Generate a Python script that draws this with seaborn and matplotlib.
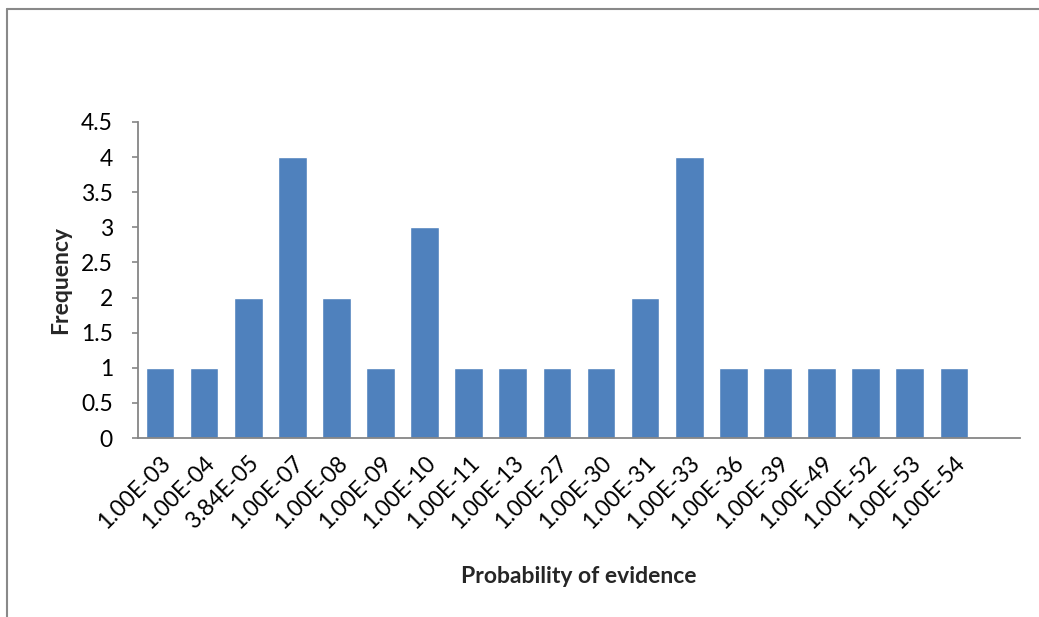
import matplotlib
matplotlib.use("Agg")
import matplotlib.pyplot as plt
import seaborn as sns
import pandas as pd

# values
prob_labels = ["1.00E-03", "1.00E-04", "3.84E-05", "1.00E-07", "1.00E-08", "1.00E-09",
               "1.00E-10", "1.00E-11", "1.00E-13", "1.00E-27", "1.00E-30", "1.00E-31",
               "1.00E-33", "1.00E-36", "1.00E-39", "1.00E-49", "1.00E-52", "1.00E-53",
               "1.00E-54"]
frequency = [1, 1, 2, 4, 2, 1, 3, 1, 1, 1, 1, 2, 4, 1, 1, 1, 1, 1, 1]

df = pd.DataFrame({"label": prob_labels, "freq": frequency})

sns.set_theme(style="white")
plt.rcParams["font.family"] = ["Lato", "DejaVu Sans"]

fig = plt.figure(figsize=(10.39, 6.17), dpi=100)
ax = fig.add_axes([0.1328, 0.2901, 0.8489, 0.5122])

sns.barplot(data=df, x="label", y="freq", color="#4F81BD", saturation=1,
            width=0.65, ax=ax)

# Excel leaves one empty slot at the right end
ax.set_xlim(-0.5, len(prob_labels) - 0.5 + 1)
ax.set_ylim(0, 4.5)
ax.set_yticks([0, 0.5, 1, 1.5, 2, 2.5, 3, 3.5, 4, 4.5])
ax.set_yticklabels(["0", "0.5", "1", "1.5", "2", "2.5", "3", "3.5", "4", "4.5"])

for s in ["top", "right"]:
    ax.spines[s].set_visible(False)
for s in ["left", "bottom"]:
    ax.spines[s].set_color("#868686")
    ax.spines[s].set_linewidth(1.3)

ax.tick_params(axis="y", left=True, length=4, width=1.2, color="#868686",
               pad=14, labelsize=16.5, labelcolor="black")
ax.tick_params(axis="x", bottom=False, pad=4, labelsize=16.5, labelcolor="black")
plt.setp(ax.get_xticklabels(), rotation=45, ha="right", rotation_mode="anchor")

ax.set_xlabel("Probability of evidence", fontsize=16.5, fontweight="bold", labelpad=24)
ax.set_ylabel("Frequency", fontsize=16.5, fontweight="bold", labelpad=7)

# chart-area border (only top and left edges visible in the crop)
fig.add_artist(plt.Line2D([0.0067, 0.0067], [0.0, 0.9854], transform=fig.transFigure,
                          color="#898989", lw=1.5))
fig.add_artist(plt.Line2D([0.0067, 1.0], [0.9854, 0.9854], transform=fig.transFigure,
                          color="#898989", lw=1.5))

fig.savefig("out.png", dpi=100)
